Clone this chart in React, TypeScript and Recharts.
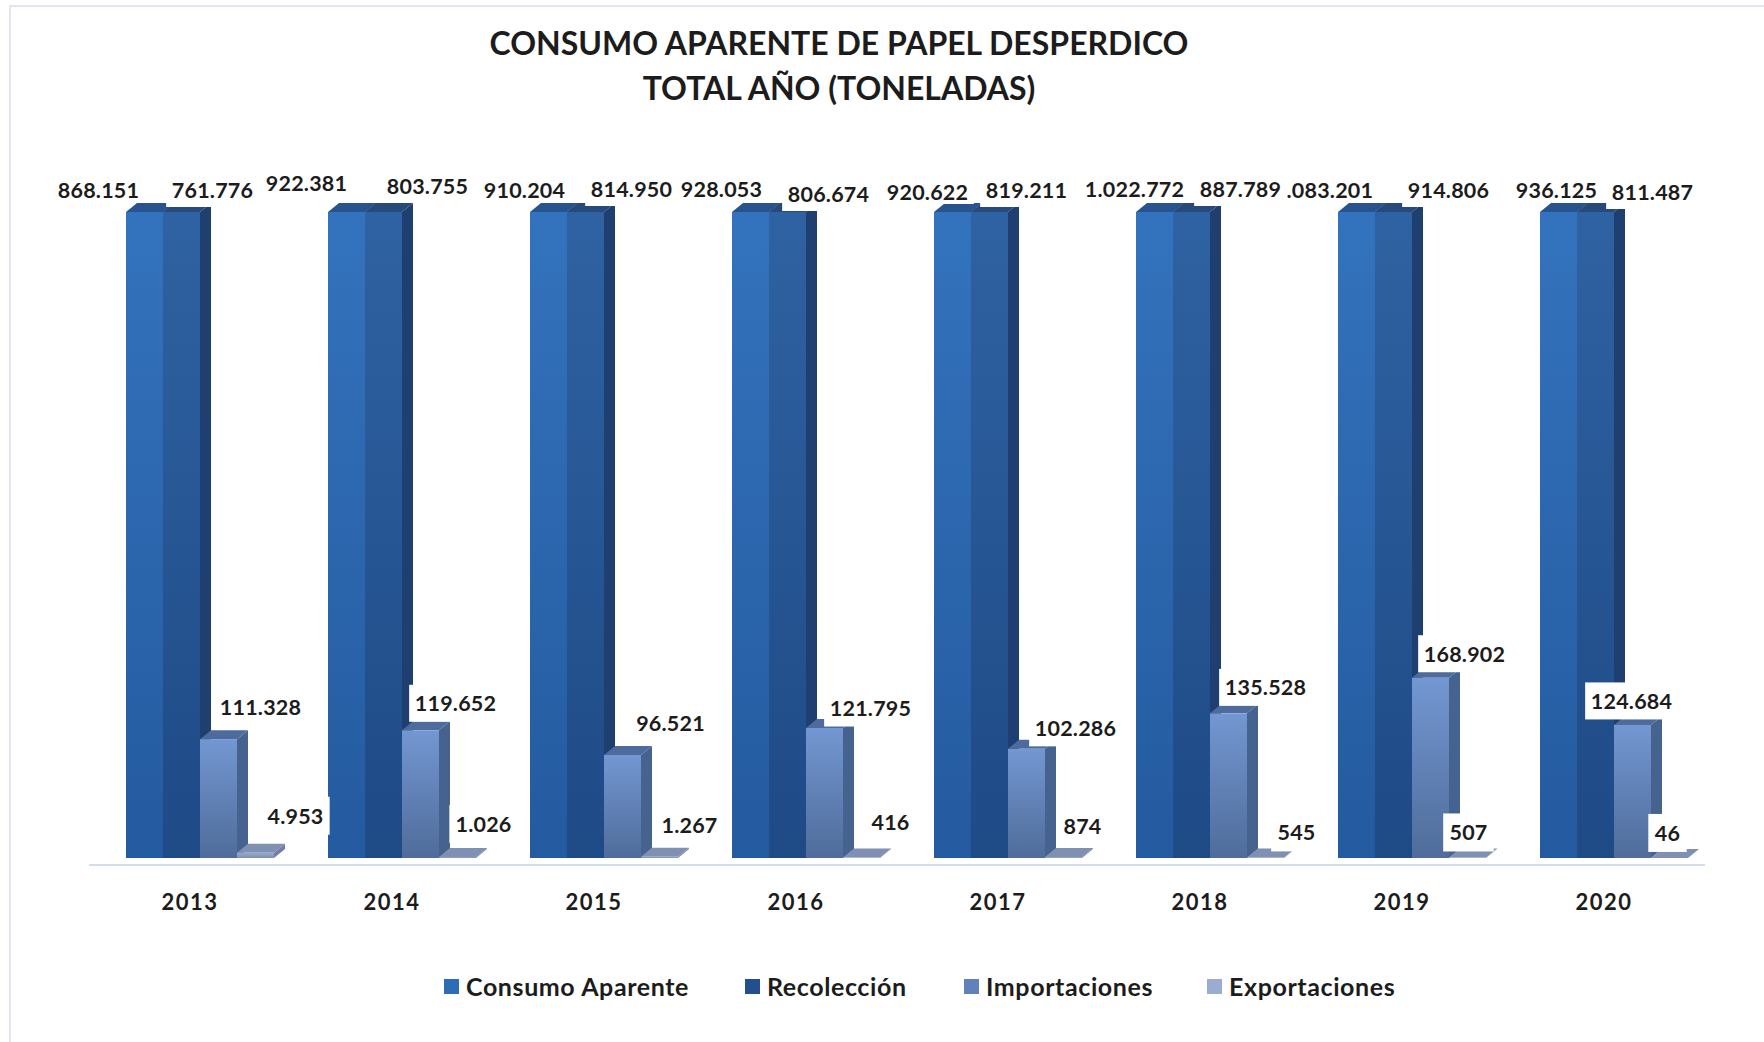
import React from 'react';
import { BarChart, Bar, XAxis, YAxis, Legend, LabelList } from 'recharts';

const years = ['2013', '2014', '2015', '2016', '2017', '2018', '2019', '2020'];
const consumo = [868151, 922381, 910204, 928053, 920622, 1022772, 1083201, 936125];
const recoleccion = [761776, 803755, 814950, 806674, 819211, 887789, 914806, 811487];
const importaciones = [111328, 119652, 96521, 121795, 102286, 135528, 168902, 124684];
const exportaciones = [4953, 1026, 1267, 416, 874, 545, 507, 46];

const data = years.map((year, i) => ({
  year,
  consumo: consumo[i],
  recoleccion: recoleccion[i],
  importaciones: importaciones[i],
  exportaciones: exportaciones[i],
}));

// Hand placement of value labels, relative to the top-centre of each bar.
const consumoNudge = [[-46, -22], [-40, -29], [-24, -22], [-29, -23], [-25, -20], [-20, -23], [-33, -22], [-2, -22]];
const recoleccionNudge = [[31, -22], [44, -26], [46, -23], [41, -18], [37, -22], [49, -23], [55, -22], [57, -20]];
const importacionesNudge = [[42, -32], [35, -27], [48, -32], [46, -20], [49, -21], [37, -26], [34, -24], [-1, -24]];
const exportacionesNudge = [[40, -37], [26, -33], [30, -32], [29, -36], [19, -31], [31, -25], [1, -25], [-2, -25]];

const FONT = 'Lato, "Noto Sans", sans-serif';
const AXIS_MAX = 691500;
const MAX_BAR_PX = 646; // axis of the reference stops here; taller bars are cut
const SHIFT = 9; // front faces sit to the right of the band centre
const DX = 11; // 3D depth
const DY = 9;

const fmt = (v: number) => String(v).replace(/\B(?=(\d{3})+(?!\d))/g, '.');

type Look = { grad: string; side: string; top: string };

const makeShape = (look: Look) => (props: any) => {
  const { x, y, width, height } = props;
  const base = y + height;
  const h = Math.min(height, MAX_BAR_PX);
  const left = x + SHIFT;
  const right = left + width;
  const t = base - h;
  return (
    <g>
      <polygon points={`${right},${t} ${right + DX},${t - DY} ${right + DX},${base - DY} ${right},${base}`} fill={look.side} />
      <polygon points={`${left},${t} ${left + DX},${t - DY} ${right + DX},${t - DY} ${right},${t}`} fill={look.top} />
      <rect x={left} y={t} width={width} height={h} fill={`url(#${look.grad})`} />
    </g>
  );
};

const makeLabel = (nudge: number[][], boxHalf: number) => (props: any) => {
  const { viewBox, value, index } = props;
  const { x, y, width, height } = viewBox;
  const base = y + height;
  const top = base - Math.min(height, MAX_BAR_PX);
  const cx = x + SHIFT + width / 2 + nudge[index][0];
  const cy = top + nudge[index][1];
  const text = fmt(Number(value));
  const dots = text.split('.').length - 1;
  const w = (text.length - dots) * 12.2 + dots * 5.5 + 14;
  return (
    <g>
      <rect x={cx - w / 2} y={cy - boxHalf} width={w} height={boxHalf * 2} fill="#ffffff" />
      <text x={cx} y={cy} textAnchor="middle" dominantBaseline="central" fontFamily={FONT} fontWeight={700} fontSize={21.5} letterSpacing={0.2} fill="#1c1c1c">
        {text}
      </text>
    </g>
  );
};

const legendLefts = [444, 745, 964, 1207];
const LegendBox = ({ payload }: any) => (
  <div style={{ position: 'relative', width: 1764, height: 30 }}>
    {(payload || []).map((p: any, i: number) => (
      <div key={p.value} style={{ position: 'absolute', left: legendLefts[i], top: -1, display: 'flex', alignItems: 'center', height: 30 }}>
        <span style={{ width: 15, height: 15, background: p.color, display: 'inline-block', marginRight: 7 }} />
        <span style={{ fontFamily: FONT, fontWeight: 700, fontSize: 25, color: '#1c1c1c', whiteSpace: 'nowrap', letterSpacing: 0.6 }}>{p.value}</span>
      </div>
    ))}
  </div>
);

export default function App() {
  return (
    <div style={{ position: 'absolute', left: 0, top: 0, width: 1764, height: 1042, overflow: 'hidden', background: '#ffffff' }}>
      <div style={{ position: 'absolute', left: 9, top: 5, right: -5, bottom: -5, borderLeft: '2px solid #e2e5f4', borderTop: '2px solid #e2e5f4' }} />
      <div style={{ position: 'absolute', left: 0, width: 1678, top: 20, textAlign: 'center', fontFamily: FONT, fontWeight: 700, fontSize: 32, lineHeight: '45px', color: '#1c1c1c' }}>
        <div>CONSUMO APARENTE DE PAPEL DESPERDICO</div>
        <div>TOTAL AÑO (TONELADAS)</div>
      </div>
      <div style={{ position: 'absolute', left: 0, top: 0 }}>
        <BarChart width={1764} height={1042} data={data} margin={{ top: 120, right: 59, bottom: 87, left: 89 }} barCategoryGap={28} barGap={0}>
          <defs>
            <linearGradient id="gConsumo" x1="0" y1="0" x2="0" y2="1">
              <stop offset="0" stopColor="#3373bd" />
              <stop offset="1" stopColor="#245a9f" />
            </linearGradient>
            <linearGradient id="gRecoleccion" x1="0" y1="0" x2="0" y2="1">
              <stop offset="0" stopColor="#2f62a2" />
              <stop offset="1" stopColor="#1e4a86" />
            </linearGradient>
            <linearGradient id="gImportaciones" x1="0" y1="0" x2="0" y2="1">
              <stop offset="0" stopColor="#7397d2" />
              <stop offset="1" stopColor="#4f6c9a" />
            </linearGradient>
            <linearGradient id="gExportaciones" x1="0" y1="0" x2="0" y2="1">
              <stop offset="0" stopColor="#96a8cc" />
              <stop offset="1" stopColor="#7f90b2" />
            </linearGradient>
          </defs>
          <XAxis
            dataKey="year"
            height={60}
            axisLine={{ stroke: '#d3deec', strokeWidth: 2 }}
            tickLine={false}
            tickMargin={23}
            tick={{ fontFamily: FONT, fontWeight: 700, fontSize: 22, fill: '#1c1c1c', letterSpacing: 1.5 }}
          />
          <YAxis hide domain={[0, AXIS_MAX]} allowDataOverflow padding={{ top: 0, bottom: 7 }} />
          <Legend itemSorter={null} content={<LegendBox />} wrapperStyle={{ left: 0, bottom: undefined, top: 972, width: 1764 }} />
          <Bar dataKey="consumo" name="Consumo Aparente" fill="#2e6cb5" isAnimationActive={false} shape={makeShape({ grad: 'gConsumo', side: '#1f3f70', top: '#27548f' })}>
            <LabelList dataKey="consumo" content={makeLabel(consumoNudge, 12)} />
          </Bar>
          <Bar dataKey="recoleccion" name="Recolección" fill="#22508f" isAnimationActive={false} shape={makeShape({ grad: 'gRecoleccion', side: '#1f3f70', top: '#27497c' })}>
            <LabelList dataKey="recoleccion" content={makeLabel(recoleccionNudge, 17)} />
          </Bar>
          <Bar dataKey="importaciones" name="Importaciones" fill="#5f82bb" isAnimationActive={false} shape={makeShape({ grad: 'gImportaciones', side: '#46628f', top: '#4d6b9c' })}>
            <LabelList dataKey="importaciones" content={makeLabel(importacionesNudge, 18.5)} />
          </Bar>
          <Bar dataKey="exportaciones" name="Exportaciones" fill="#9aaccf" isAnimationActive={false} shape={makeShape({ grad: 'gExportaciones', side: '#6f80a2', top: '#7f90b2' })}>
            <LabelList dataKey="exportaciones" content={makeLabel(exportacionesNudge, 19)} />
          </Bar>
        </BarChart>
      </div>
    </div>
  );
}
